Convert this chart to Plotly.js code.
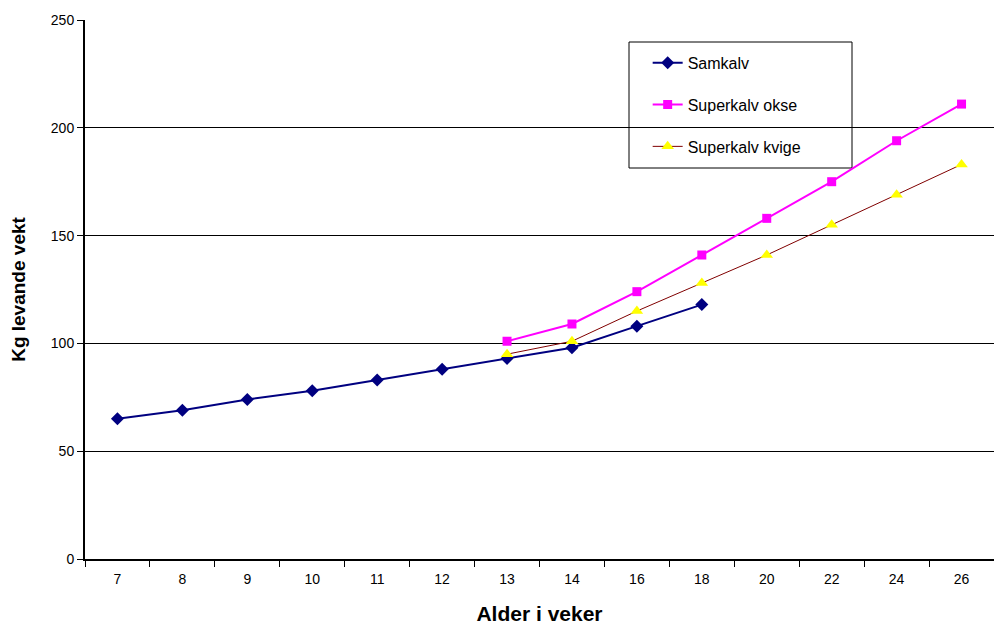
<!DOCTYPE html>
<html><head><meta charset="utf-8">
<script src="https://cdn.plot.ly/plotly-3.0.1.min.js"></script>
<style>html,body{margin:0;padding:0;background:#fff}#c{width:994px;height:625px}</style>
</head><body><div id="c"></div>
<script>
const categories = ["7","8","9","10","11","12","13","14","16","18","20","22","24","26"];
const samkalv = [65,69,74,78,83,88,93,98,108,118,null,null,null,null];
const superkalvOkse = [null,null,null,null,null,null,101,109,124,141,158,175,194,211];
const superkalvKvige = [null,null,null,null,null,null,95,101,115,128,141,155,169,183];

const traces = [
  {x:categories,y:samkalv,name:"Samkalv",type:"scatter",mode:"lines+markers",legendgroup:"a",
   line:{color:"#000080",width:2},marker:{symbol:"diamond",size:10,color:"#000080"}},
  {x:categories,y:superkalvOkse,name:"Superkalv okse",type:"scatter",mode:"lines+markers",legendgroup:"b",
   line:{color:"#FF00FF",width:2},marker:{symbol:"square",size:9,color:"#FF00FF"}},
  {x:categories,y:superkalvKvige,name:"Superkalv kvige",type:"scatter",mode:"lines+markers",legendgroup:"c",
   line:{color:"#800000",width:1},marker:{symbol:"triangle-up",size:11,color:"#FFFF00"}}
];
const layout = {
  width:994,height:625,
  margin:{l:85,r:0,t:20,b:66},
  paper_bgcolor:"#fff",plot_bgcolor:"#fff",
  font:{family:"Liberation Sans, Arial, sans-serif",color:"#000",size:14},
  xaxis:{type:"category",range:[-0.5,13.5],tickson:"boundaries",ticks:"outside",ticklen:6,tickcolor:"#000",
    showline:true,linecolor:"#000",linewidth:2,showgrid:false,zeroline:false,
    tickfont:{size:14},ticklabelstandoff:6,
    title:{text:"Alder i veker",font:{size:21,weight:"bold"},standoff:22}},
  yaxis:{range:[0,250],dtick:50,ticks:"outside",ticklen:6,tickcolor:"#000",
    showline:true,linecolor:"#000",linewidth:2,showgrid:true,gridcolor:"#000",gridwidth:1,zeroline:false,
    tickfont:{size:14},
    title:{text:"Kg levande vekt",font:{size:19,weight:"bold"},standoff:20}},
  showlegend:true,
  legend:{x:0.619,y:0.952,xanchor:"left",yanchor:"top",traceorder:"grouped",tracegroupgap:18,
    bgcolor:"rgba(0,0,0,0)",borderwidth:0,font:{size:16}},
  shapes:[{type:"rect",xref:"paper",yref:"paper",x0:(629-85)/909,x1:(852-85)/909,y0:(559-168)/539,y1:(559-42)/539,
    line:{color:"#000",width:1},fillcolor:"#fff",layer:"below"}]
};
Plotly.newPlot("c",traces,layout,{displayModeBar:false});
</script></body></html>
